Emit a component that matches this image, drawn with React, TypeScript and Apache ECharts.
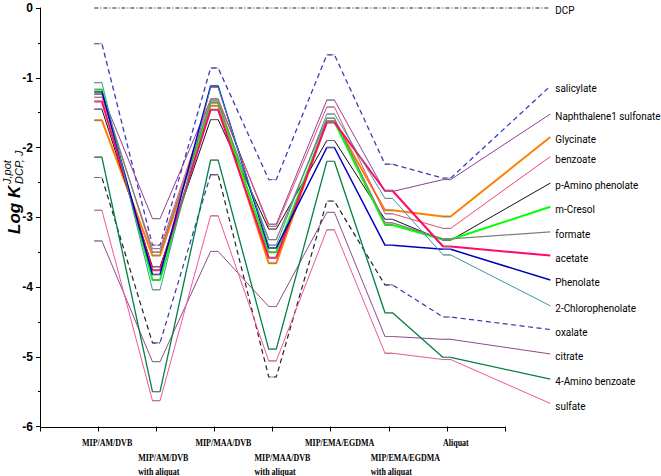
import React, { useEffect, useRef } from 'react';
import * as echarts from 'echarts';

// x categories (positions 1..7 on the value x axis)
const categories = [
  'MIP/AM/DVB',
  'MIP/AM/DVB\nwith aliquat',
  'MIP/MAA/DVB',
  'MIP/MAA/DVB\nwith aliquat',
  'MIP/EMA/EGDMA',
  'MIP/EMA/EGDMA\nwith aliquat',
  'Aliquat',
];

// y ticks
const yTicks = [0, -1, -2, -3, -4, -5, -6];
// x tick positions (axis drawn from 0 to 8)
const xTicks = [0, 1, 2, 3, 4, 5, 6, 7, 8];

// values at the seven materials, then the value where the line meets its label
const DCP = [0, 0, 0, 0, 0, 0, 0, 0];
const salicylate = [-0.51, -3.4, -0.86, -2.46, -0.67, -2.24, -2.44, -1.12];
const naphthalene = [-1.24, -3.02, -1.32, -3.1, -1.32, -2.63, -2.46, -1.52];
const glycinate = [-1.61, -3.55, -1.4, -3.66, -1.62, -2.9, -2.99, -1.85];
const benzoate = [-1.28, -3.45, -1.3, -3.13, -1.42, -2.95, -3.16, -2.13];
const pAminophenolate = [-1.45, -3.71, -1.6, -3.17, -1.9, -3.03, -3.33, -2.51];
const mCresol = [-1.17, -3.9, -1.35, -3.5, -1.63, -3.11, -3.32, -2.85];
const formate = [-1.22, -3.5, -1.36, -3.32, -1.58, -3.08, -3.31, -3.21];
const acetate = [-1.34, -3.76, -1.46, -3.58, -1.64, -2.62, -3.42, -3.55];
const phenolate = [-1.2, -3.82, -1.12, -3.44, -2.0, -3.4, -3.46, -3.9];
const chlorophenolate = [-1.07, -4.04, -1.14, -3.4, -1.52, -2.73, -3.54, -4.27];
const oxalate = [-2.43, -4.8, -2.39, -5.29, -2.77, -3.97, -4.43, -4.61];
const citrate = [-3.34, -5.07, -3.49, -4.28, -2.93, -4.71, -4.75, -4.96];
const aminobenzoate = [-2.14, -5.5, -2.18, -4.89, -2.2, -4.37, -5.01, -5.32];
const sulfate = [-2.9, -5.63, -2.98, -5.06, -3.18, -4.95, -5.04, -5.67];

const seriesNames = [
  'DCP', 'salicylate', 'Naphthalene1 sulfonate', 'Glycinate', 'benzoate',
  'p-Amino phenolate', 'm-Cresol', 'formate', 'acetate', 'Phenolate',
  '2-Chlorophenolate', 'oxalate', 'citrate', '4-Amino benzoate', 'sulfate',
];
const seriesValues = [
  DCP, salicylate, naphthalene, glycinate, benzoate, pAminophenolate, mCresol,
  formate, acetate, phenolate, chlorophenolate, oxalate, citrate, aminobenzoate, sulfate,
];

// line styles (same order as seriesNames)
const styles: any[] = [
  { color: '#222222', width: 1, type: [4, 2, 1, 2] },
  { color: '#3b3bb8', width: 1.3, type: [5, 3.5] },
  { color: '#8f3f96', width: 1 },
  { color: '#ff8000', width: 2 },
  { color: '#f0466b', width: 1 },
  { color: '#111111', width: 1 },
  { color: '#00ff00', width: 2 },
  { color: '#7f7f7f', width: 1.3 },
  { color: '#ff0a6c', width: 2 },
  { color: '#0000c0', width: 1.5 },
  { color: '#3b97a0', width: 1 },
  { color: '#222222', width: 1.2, type: [5, 3.5] },
  { color: '#93478f', width: 1 },
  { color: '#008040', width: 1.3 },
  { color: '#f2549e', width: 1 },
];

// oxalate segments drawn blue instead of black
const oxalateBlueSegments = [false, true, false, false, false, true, true];

const HALF = 0.065; // half width of the flat step at each material
const END_X = 8.78; // x where lines meet their labels
const PX_PER_UNIT = 58.125;

function nodes(vals: number[]) {
  return vals.map((v, i) =>
    i < 7 ? [[i + 1 - HALF, v], [i + 1 + HALF, v]] : [[END_X, v]]
  );
}

function buildData(vals: number[], mask?: boolean[]) {
  const nd = nodes(vals);
  if (!mask) return nd.flat();
  const out: any[] = [];
  let prev = -10;
  for (let s = 0; s < 7; s++) {
    if (!mask[s]) continue;
    if (prev !== s - 1) {
      if (out.length) out.push(['-', '-']);
      out.push(...nd[s]);
    }
    out.push(...nd[s + 1]);
    prev = s;
  }
  return out;
}

export default function App() {
  const ref = useRef<HTMLDivElement>(null);
  useEffect(() => {
    if (!ref.current) return;
    const chart = echarts.init(ref.current, undefined, { renderer: 'svg' });

    const series: any[] = [];
    seriesValues.forEach((vals, idx) => {
      const st = styles[idx];
      const base = {
        type: 'line',
        symbol: 'none',
        showSymbol: false,
        clip: false,
        silent: true,
        z: 2,
      };
      if (seriesNames[idx] === 'oxalate') {
        series.push({
          ...base,
          name: 'oxalate-black',
          data: buildData(vals, oxalateBlueSegments.map((b) => !b)),
          lineStyle: { ...st },
        });
        series.push({
          ...base,
          name: 'oxalate',
          data: buildData(vals, oxalateBlueSegments),
          lineStyle: { ...st, color: '#3636b0' },
        });
      } else {
        series.push({
          ...base,
          name: seriesNames[idx],
          data: buildData(vals),
          lineStyle: { ...st },
        });
      }
    });

    // gray step markers at each material
    const markers: number[][] = [];
    seriesValues.slice(1).forEach((vals) => {
      vals.slice(0, 7).forEach((v, i) => markers.push([i + 1, v]));
    });
    series.push({
      type: 'scatter',
      data: markers,
      symbol: 'rect',
      symbolSize: [8, 1],
      itemStyle: { color: '#808080' },
      silent: true,
      z: 3,
    });

    const option: any = {
      animation: false,
      backgroundColor: '#ffffff',
      grid: { left: 40, top: 8, width: PX_PER_UNIT * END_X, height: 418.5 },
      xAxis: {
        type: 'value',
        min: 0,
        max: END_X,
        axisLine: { show: false, onZero: false },
        axisTick: {
          show: true,
          length: 5,
          customValues: xTicks,
          lineStyle: { color: '#000' },
        },
        axisLabel: { show: false },
        splitLine: { show: false },
      },
      yAxis: {
        type: 'value',
        min: yTicks[yTicks.length - 1],
        max: yTicks[0],
        interval: 1,
        axisLine: { show: true, onZero: false, lineStyle: { color: '#000', width: 1 } },
        axisTick: { show: true, length: 4, lineStyle: { color: '#000' } },
        minorTick: { show: true, splitNumber: 2, length: 2, lineStyle: { color: '#000' } },
        axisLabel: {
          margin: 7,
          color: '#000',
          fontFamily: 'Liberation Sans, Arial, sans-serif',
          fontWeight: 'bold',
          fontSize: 12,
          formatter: (v: number) => String(v),
        },
        splitLine: { show: false },
      },
      series,
    };
    chart.setOption(option);

    const px = (x: number, y: number) =>
      chart.convertToPixel({ gridIndex: 0 }, [x, y]) as number[];
    const axisY = px(0, -6)[1];
    const lineY = Math.round(axisY) + 0.5;

    const graphics: any[] = [];
    // x axis line, from 0 to the last tick
    graphics.push({
      type: 'line',
      silent: true,
      shape: { x1: px(xTicks[0], -6)[0], y1: lineY, x2: px(xTicks[xTicks.length - 1], -6)[0], y2: lineY },
      style: { stroke: '#000', lineWidth: 1 },
    });

    const serifFont = 'bold 10px "Liberation Serif", "Times New Roman", serif';
    categories.forEach((c, i) => {
      const tx = px(i + 1, -6)[0];
      const lines = c.split('\n');
      if (lines.length === 1) {
        graphics.push({
          type: 'text',
          x: tx + 9,
          y: axisY + 16,
          scaleX: 0.8,
          silent: true,
          style: { text: lines[0], font: serifFont, fill: '#000', textAlign: 'center', textVerticalAlign: 'middle' },
        });
      } else {
        lines.forEach((ln, j) => {
          graphics.push({
            type: 'text',
            x: tx - 18,
            y: axisY + 31 + j * 14,
            scaleX: 0.8,
            silent: true,
            style: { text: ln, font: serifFont, fill: '#000', textAlign: 'left', textVerticalAlign: 'middle' },
          });
        });
      }
    });

    // labels at line ends
    seriesValues.forEach((vals, idx) => {
      const p = px(END_X, vals[7]);
      graphics.push({
        type: 'text',
        x: p[0] + 5,
        y: p[1] + 2.5,
        scaleX: 0.9,
        silent: true,
        style: {
          text: seriesNames[idx],
          font: '11px Roboto, "Liberation Sans", sans-serif',
          fill: '#000',
          textAlign: 'left',
          textVerticalAlign: 'middle',
        },
      });
    });

    // y axis title: Log K (J,pot / DCP, J)
    graphics.push({
      type: 'group',
      x: 14,
      y: 234,
      rotation: Math.PI / 2,
      silent: true,
      children: [
        {
          type: 'text',
          x: 0,
          y: 0,
          style: { text: 'Log K', font: 'italic bold 17px "Liberation Sans", Arial, sans-serif', fill: '#000', textAlign: 'left', textVerticalAlign: 'middle' },
        },
        {
          type: 'text',
          x: 50,
          y: -7,
          style: { text: 'J,pot', font: 'italic 11px "Liberation Sans", Arial, sans-serif', fill: '#000', textAlign: 'left', textVerticalAlign: 'middle' },
        },
        {
          type: 'text',
          x: 50,
          y: 5,
          style: { text: 'DCP, J', font: 'italic 11px "Liberation Sans", Arial, sans-serif', fill: '#000', textAlign: 'left', textVerticalAlign: 'middle' },
        },
      ],
    });

    chart.setOption({ graphic: graphics });

    return () => chart.dispose();
  }, []);

  return (
    <div
      ref={ref}
      style={{ position: 'fixed', left: 0, top: 0, width: 661, height: 476, background: '#fff' }}
    />
  );
}
